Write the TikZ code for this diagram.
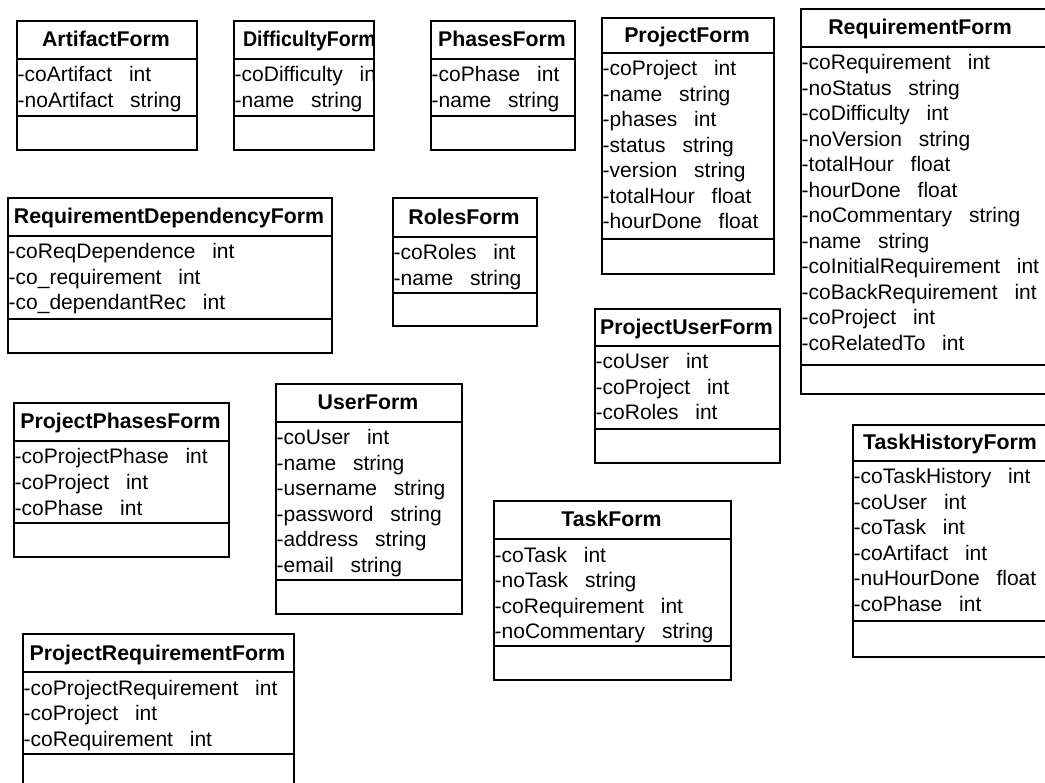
\documentclass[tikz,border=0pt]{standalone}
\usepackage{fontspec}
\setmainfont{Liberation Sans}
\tikzset{
  boxline/.style={line width=1.6pt, black},
  classbox/.style={draw, line width=1.6pt, inner sep=0pt, fill=white},
  titletext/.style={font=\fontsize{21.3}{24}\selectfont\bfseries, inner sep=0pt, anchor=base},
  attrtext/.style={font=\fontsize{21}{24}\selectfont, inner sep=0pt, anchor=base west},
}
\newcommand\tsp{\hspace{0.8em}}
\def\tshift{0}
\def\rowpitch{25.5}
\newcommand\umlclass[9]{%
  \node[classbox, minimum width={(#3-#2)*1pt}, minimum height={(#7-#4)*1pt}, anchor=north west] (#1) at (#2,#4) {};
  \draw[boxline] (#2,#5) -- (#3,#5);
  \draw[boxline] (#2,#6) -- (#3,#6);
  \begin{scope}
    \clip (#2,#4) rectangle (#3,#7);
    \node[titletext] (#1-title) at ({(#2+#3)/2+\tshift},{(#4+#5)/2+7.5}) {#8};
    \foreach \a [count=\i] in {#9} {
      \node[attrtext] (#1-\i) at ({#2+1.5},{#5+23+(\i-1)*\rowpitch}) {\a};
    }%
  \end{scope}%
}
\begin{document}
\begin{tikzpicture}[x=1pt,y=-1pt]
\useasboundingbox (0,0) rectangle (1045,783);
\fill[white] (0,0) rectangle (1045,783);
\clip (0,0) rectangle (1045,783);

\umlclass{artifact}{16}{196}{20}{59}{116}{149}{ArtifactForm}{-coArtifact\tsp int,-noArtifact\tsp string}
\def\tshift{6.5}
\umlclass{difficulty}{233}{373}{20}{59}{116}{149}{\scalebox{0.92}[1]{DifficultyForm}}{-coDifficulty\tsp int,-name\tsp string}
\def\tshift{0}
\umlclass{phases}{430}{574}{20}{59}{116}{149}{PhasesForm}{-coPhase\tsp int,-name\tsp string}
\umlclass{project}{601}{773}{17}{53}{239}{273}{ProjectForm}{-coProject\tsp int,-name\tsp string,-phases\tsp int,-status\tsp string,-version\tsp string,-totalHour\tsp float,-hourDone\tsp float}
\def\tshift{-6}
\umlclass{requirement}{800}{1052}{8}{47}{365}{393}{RequirementForm}{-coRequirement\tsp int,-noStatus\tsp string,-coDifficulty\tsp int,-noVersion\tsp string,-totalHour\tsp float,-hourDone\tsp float,-noCommentary\tsp string,-name\tsp string,-coInitialRequirement\tsp int,-coBackRequirement\tsp int,-coProject\tsp int,-coRelatedTo\tsp int}
\def\tshift{0}
\umlclass{reqdep}{7}{331}{197}{236}{319}{352}{RequirementDependencyForm}{-coReqDependence\tsp int,-co\_requirement\tsp int,-co\_dependantRec\tsp int}
\umlclass{roles}{392}{536}{197}{237}{293}{325}{RolesForm}{-coRoles\tsp int,-name\tsp string}
\umlclass{projectuser}{594}{779}{308}{346}{429}{462}{ProjectUserForm}{-coUser\tsp int,-coProject\tsp int,-coRoles\tsp int}
\umlclass{projectphases}{13}{228}{402}{441}{523}{556}{ProjectPhasesForm}{-coProjectPhase\tsp int,-coProject\tsp int,-coPhase\tsp int}
\umlclass{user}{275}{461}{383}{422}{580}{613}{UserForm}{-coUser\tsp int,-name\tsp string,-username\tsp string,-password\tsp string,-address\tsp string,-email\tsp string}
\umlclass{task}{493}{730}{500}{539}{646}{679}{TaskForm}{-coTask\tsp int,-noTask\tsp string,-coRequirement\tsp int,-noCommentary\tsp string}
\umlclass{taskhistory}{852}{1048}{424}{461}{621}{656}{TaskHistoryForm}{-coTaskHistory\tsp int,-coUser\tsp int,-coTask\tsp int,-coArtifact\tsp int,-nuHourDone\tsp float,-coPhase\tsp int}
\umlclass{projreq}{22}{293}{633}{672}{754}{800}{ProjectRequirementForm}{-coProjectRequirement\tsp int,-coProject\tsp int,-coRequirement\tsp int}
\end{tikzpicture}
\end{document}
